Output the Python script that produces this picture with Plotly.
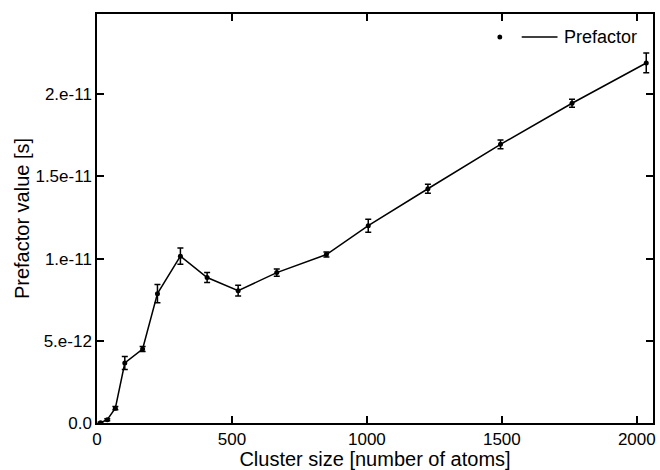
import plotly.graph_objects as go

cluster_size = [13, 38, 68, 103, 169, 224, 309, 408, 523, 666, 850, 1005, 1226, 1495, 1760, 2035]
prefactor = [0.02e-12, 0.2e-12, 0.9e-12, 3.65e-12, 4.5e-12, 7.87e-12, 10.15e-12, 8.85e-12,
             8.05e-12, 9.15e-12, 10.25e-12, 12.0e-12, 14.25e-12, 16.95e-12, 19.45e-12, 21.9e-12]
prefactor_err = [0.03e-12, 0.06e-12, 0.1e-12, 0.4e-12, 0.15e-12, 0.55e-12, 0.5e-12, 0.3e-12,
                 0.33e-12, 0.22e-12, 0.15e-12, 0.4e-12, 0.27e-12, 0.27e-12, 0.25e-12, 0.6e-12]

x_ticks = [0, 500, 1000, 1500, 2000]
y_ticks = [0, 5e-12, 1e-11, 1.5e-11, 2e-11]
y_tick_labels = ["0.0", "5.e-12", "1.e-11", "1.5e-11", "2.e-11"]

fig = go.Figure()
fig.add_trace(go.Scatter(
    x=cluster_size, y=prefactor, mode="lines+markers",
    line=dict(color="black", width=1.5),
    marker=dict(color="black", size=5),
    error_y=dict(type="data", array=prefactor_err, visible=True, color="black",
                 thickness=1.5, width=3),
    name="Prefactor", showlegend=False,
))

font = "Liberation Sans, Arial, Helvetica, sans-serif"
axis_common = dict(showline=True, linecolor="black", linewidth=1.5, mirror="ticks",
                   ticks="inside", ticklen=7, tickwidth=1.5, tickcolor="black",
                   showgrid=False, zeroline=False,
                   tickfont=dict(family=font, size=17, color="black"))

fig.update_layout(
    width=660, height=470,
    margin=dict(l=97, r=4, t=14, b=47),
    paper_bgcolor="white", plot_bgcolor="white",
    font=dict(family=font, size=17, color="black"),
    xaxis=dict(range=[0, 2060], tickvals=x_ticks,
               title=dict(text="Cluster size [number of atoms]", font=dict(family=font, size=20), standoff=0),
               **axis_common),
    yaxis=dict(range=[0, 2.488e-11], tickvals=y_ticks, ticktext=y_tick_labels,
               title=dict(text="Prefactor value [s]", font=dict(family=font, size=20), standoff=0),
               **axis_common),
)

# legend drawn manually: dot, line, label
fig.add_shape(type="circle", xref="paper", yref="paper",
              x0=(502 - 2.5 - 97) / 559, x1=(502 + 2.5 - 97) / 559,
              y0=(423 - 37 - 2.5) / 409, y1=(423 - 37 + 2.5) / 409,
              fillcolor="black", line=dict(color="black", width=0))
fig.add_shape(type="line", xref="paper", yref="paper",
              x0=(524 - 97) / 559, x1=(560 - 97) / 559,
              y0=(423 - 37) / 409, y1=(423 - 37) / 409,
              line=dict(color="black", width=1.5))
fig.add_annotation(xref="paper", yref="paper", x=(565 - 97) / 559, y=(423 - 37) / 409,
                   text="Prefactor", showarrow=False, xanchor="left", yanchor="middle",
                   font=dict(family=font, size=18, color="black"))

fig.write_html("out.html", config={"displayModeBar": False},
               post_script="document.body.style.margin='0';document.body.style.overflow='hidden';")
